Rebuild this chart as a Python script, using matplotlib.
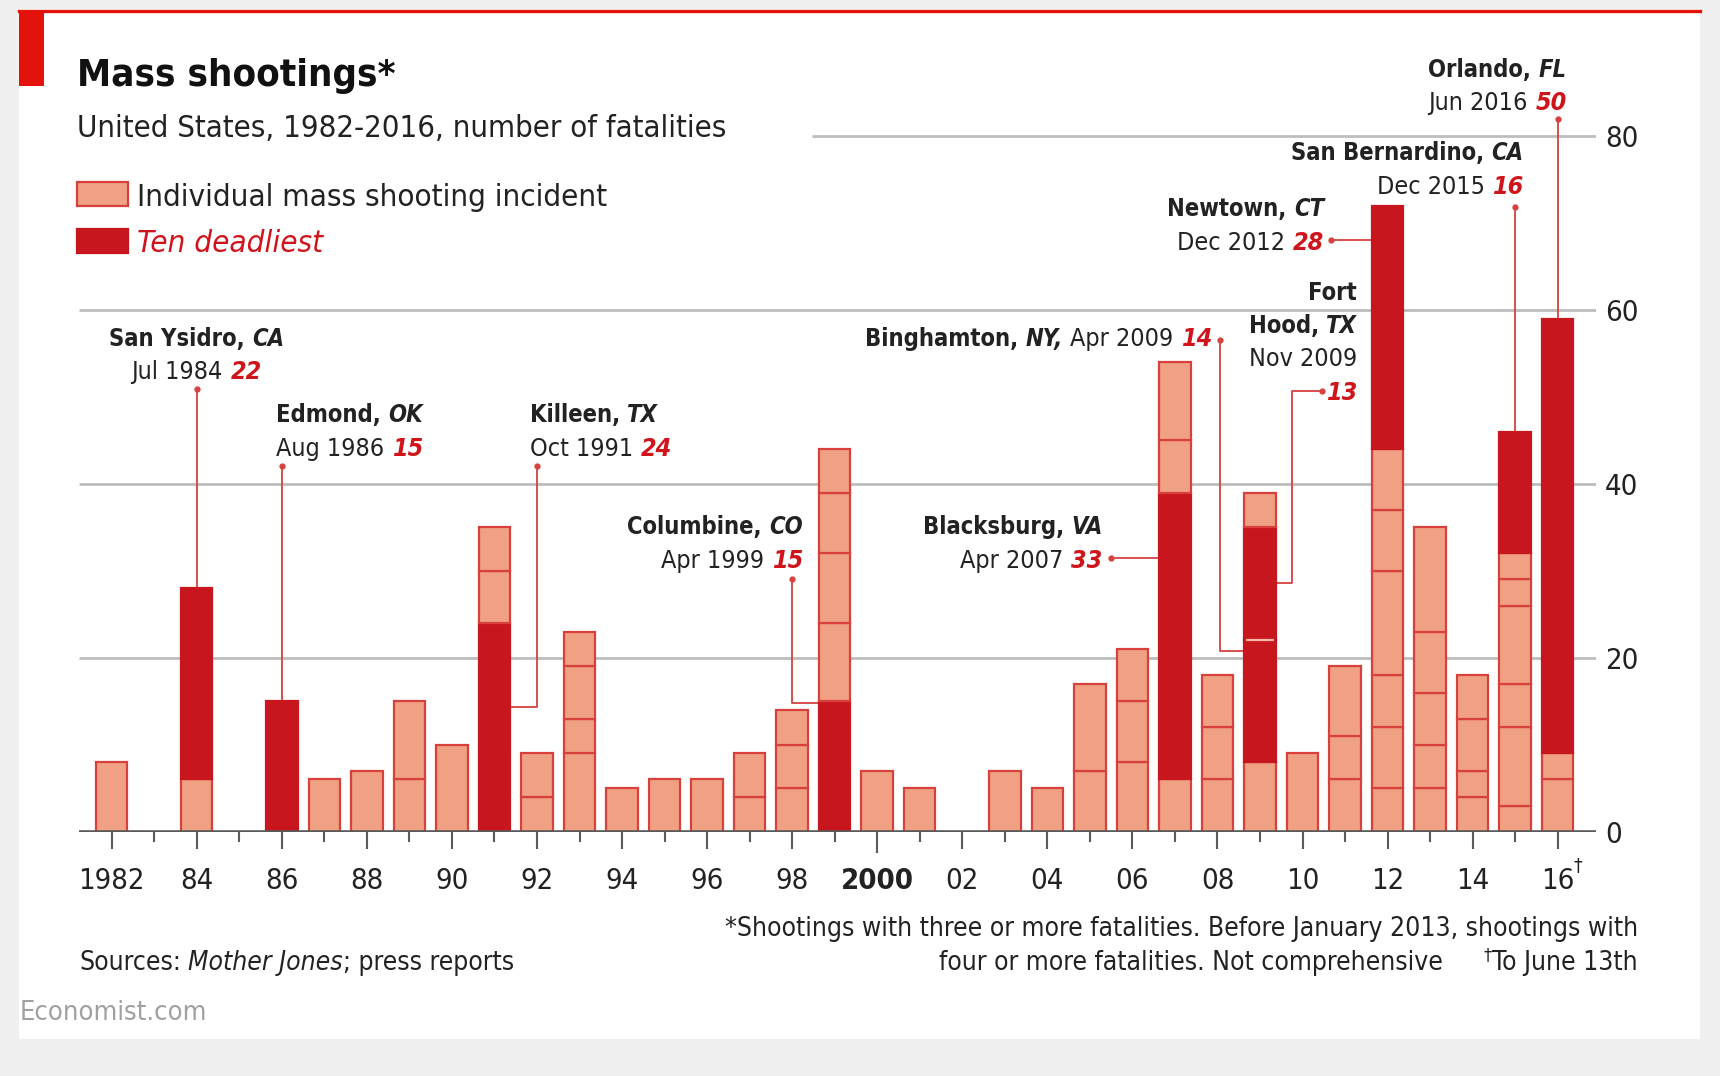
import matplotlib
matplotlib.use("Agg")
import matplotlib.pyplot as plt
from matplotlib import transforms
from matplotlib.patches import Rectangle
from matplotlib.lines import Line2D

plt.rcParams['font.family'] = ['DejaVu Sans']
plt.rcParams['font.stretch'] = 'condensed'

# ---- data -------------------------------------------------------------
years = list(range(1982, 2017))
# fatalities of each incident, stacked bottom-up within a year
incidents = [
    [8], [], [6, 22], [], [15], [6], [7], [6, 9], [10], [24, 6, 5],
    [4, 5], [9, 4, 6, 4], [5], [6], [6], [4, 5], [5, 5, 4], [15, 9, 8, 7, 5], [7], [5],
    [], [7], [5], [7, 10], [8, 7, 6], [6, 33, 6, 9], [6, 6, 6], [8, 14, 13, 4], [9], [6, 5, 8],
    [5, 7, 6, 12, 7, 7, 28], [5, 5, 6, 7, 12], [4, 3, 6, 5], [3, 9, 5, 9, 3, 3, 14], [6, 3, 50],
]
# (year, place in the stack) of the ten deadliest, in date order
deadliest = [(1984, 1), (1986, 0), (1991, 0), (1999, 0), (2007, 1),
             (2009, 1), (2009, 2), (2012, 6), (2015, 6), (2016, 2)]
places = ["San Ysidro,", "Edmond,", "Killeen,", "Columbine,", "Blacksburg,",
          "Binghamton,", "Fort Hood,", "Newtown,", "San Bernardino,", "Orlando,"]
states = ["CA", "OK", "TX", "CO", "VA", "NY,", "TX", "CT", "CA", "FL"]
dates = ["Jul 1984", "Aug 1986", "Oct 1991", "Apr 1999", "Apr 2007",
         "Apr 2009", "Nov 2009", "Dec 2012", "Dec 2015", "Jun 2016"]
deaths = ["22", "15", "24", "15", "33", "14", "13", "28", "16", "50"]

year_ticks = list(range(1982, 2017, 2))
year_labels = ["1982", "84", "86", "88", "90", "92", "94", "96", "98", "2000",
               "02", "04", "06", "08", "10", "12", "14", "16"]
y_ticks = [0, 20, 40, 60, 80]

# ---- style ------------------------------------------------------------
LIGHT = '#F0A184'
EDGE = '#D8403C'
DARK = '#C8161E'
RED_TXT = '#D0141C'
LEADER = '#D6423E'
GRID = '#BDBDBD'
AXIS = '#5A5A5A'
TXT = '#222222'
HW = 0.37  # half bar width

BOLD = dict(weight='bold', color=TXT, size=17)
BOLD_IT = dict(weight='bold', style='italic', color=TXT, size=17)
REG = dict(color=TXT)
NUM = dict(weight='bold', style='italic', color=RED_TXT)

fig = plt.figure(figsize=(17.2, 10.76), dpi=100, facecolor='#F0F0F0')
renderer = fig.canvas.get_renderer()

fig.patches.append(Rectangle((0.0108, 0.0347), 0.9777, 0.9571, transform=fig.transFigure,
                             facecolor='white', edgecolor='none', zorder=-10))
fig.lines.append(Line2D([0.0108, 0.9885], [0.9898, 0.9898], transform=fig.transFigure,
                        color='#E3120B', lw=2.4))
fig.patches.append(Rectangle((0.0108, 0.9205), 0.0147, 0.0693, transform=fig.transFigure,
                             facecolor='#E3120B', edgecolor='none'))


def text_width(s, style):
    t = fig.text(0, 0, s, **style)
    w = t.get_window_extent(renderer).width
    t.remove()
    return w


def rich(x, y, parts, ha="left", transform=None, size=18):
    """Draw runs of differently styled text on one baseline."""
    if transform is None:
        transform = fig.transFigure
    artists, widths, gaps, rises = [], [], [], []
    for s, style in parts:
        style = dict(style)
        style.setdefault('size', size)
        rise = style.pop('dy', 0)
        gap = 0
        if s.startswith(" "):
            s = s.lstrip()
            gap = text_width("a a", style) - text_width("aa", style)
        t = fig.text(x, y, s, transform=transform, ha='left', va='baseline', **style)
        artists.append(t)
        widths.append(t.get_window_extent(renderer).width)
        gaps.append(gap)
        rises.append(rise)
    total = sum(widths) + sum(gaps)
    off = {'left': 0, 'center': -total / 2, 'right': -total}[ha]
    for t, w, g, r in zip(artists, widths, gaps, rises):
        off += g
        t.set_transform(transforms.offset_copy(transform, fig=fig, x=off, y=r, units='dots'))
        off += w
    return artists


# ---- axes -------------------------------------------------------------
ax = fig.add_axes([0.0459, 0.2271, 0.8820, 0.7596])
ax.set_facecolor('none')
ax.set_xlim(1981.23, 2016.9)
ax.set_ylim(0, 94)
for sp in ax.spines.values():
    sp.set_visible(False)

for g in y_ticks[1:]:
    start = 1998.46 if g == 80 else ax.get_xlim()[0]
    ax.hlines(g, start, ax.get_xlim()[1], color=GRID, lw=2, zorder=0)
ax.axhline(0, color=AXIS, lw=2.6, zorder=5)

seg_box = {}
for yr, segs in zip(years, incidents):
    bottom = 0
    prev_dark = False
    for i, h in enumerate(segs):
        dark = (yr, i) in deadliest
        ax.bar(yr, h, bottom=bottom, width=2 * HW, color=DARK if dark else LIGHT,
               edgecolor=DARK if dark else EDGE, linewidth=1.6, zorder=3)
        if dark and prev_dark:
            ax.hlines(bottom, yr - HW + 0.03, yr + HW - 0.03, color='#F6B9A9', lw=1.6, zorder=4)
        seg_box[(yr, i)] = (bottom, bottom + h)
        bottom += h
        prev_dark = dark

ax.set_xticks(year_ticks)
ax.set_xticklabels(year_labels)
ax.set_xticks([y for y in years if y % 2], minor=True)
ax.tick_params(axis='x', which='major', length=12, width=1.5, color=AXIS, pad=13.5,
               labelsize=21, labelcolor=TXT)
ax.tick_params(axis='x', which='minor', length=7, width=1.5, color=AXIS)
for tick in ax.xaxis.get_major_ticks():
    if tick.get_loc() == 2000:
        tick.tick1line.set_markersize(15)
        tick.label1.set_fontweight('bold')
ax.text(2016.47, -4.0, '†', fontsize=14, color=TXT, ha='center', va='center', clip_on=False)

ax.set_yticks(y_ticks)
ax.yaxis.tick_right()
ax.tick_params(axis='y', length=0, pad=6.5, labelsize=21, labelcolor=TXT)

# ---- annotations ------------------------------------------------------
# ha, text x, first line centre, dot x, dot y, elbow points, leader end
ann_layout = [
    ('center', 1984.0, 56.9, 1984.0, 50.85, [], 'top'),
    ('left', 1985.87, 48.1, 1986.0, 42.0, [], 'top'),
    ('left', 1991.83, 48.1, 1992.0, 42.0, [(1992.0, 14.3)], 'side'),
    ('right', 1998.25, 35.2, 1998.0, 29.1, [(1998.0, 14.8)], 'side'),
    ('right', 2005.30, 35.2, 2005.5, 31.5, [], 'side'),
    ('right', 2007.88, 56.9, 2008.06, 56.5, [(2008.06, 20.8)], 'side'),
    ('right', 2011.28, 62.2, 2010.46, 50.7, [(2009.76, 50.7), (2009.76, 28.6)], 'side'),
    ('right', 2010.51, 71.8, 2010.66, 68.0, [], 'side'),
    ('right', 2015.20, 78.2, 2015.0, 71.8, [], 'top'),
    ('right', 2016.21, 87.8, 2016.0, 82.0, [], 'top'),
]
LINE = 3.85
BASE = 1.0
ASIZE = 18

for k, (ha, tx, ty, dx, dy, elbows, end) in enumerate(ann_layout):
    name = places[k]
    if name == "Binghamton,":
        rich(tx, ty - BASE, [(name, BOLD), (" " + states[k], BOLD_IT), (" " + dates[k], REG),
                             (" " + deaths[k], NUM)], ha=ha, transform=ax.transData, size=ASIZE)
    elif name == "Fort Hood,":
        first, second = name.split()
        rich(tx, ty - BASE, [(first, BOLD)], ha=ha, transform=ax.transData, size=ASIZE)
        rich(tx, ty - LINE - BASE, [(second, BOLD), (" " + states[k], BOLD_IT)], ha=ha,
             transform=ax.transData, size=ASIZE)
        rich(tx, ty - 2 * LINE - BASE, [(dates[k], REG)], ha=ha, transform=ax.transData, size=ASIZE)
        rich(tx, ty - 3 * LINE - BASE, [(deaths[k], NUM)], ha=ha, transform=ax.transData, size=ASIZE)
    else:
        rich(tx, ty - BASE, [(name, BOLD), (" " + states[k], BOLD_IT)], ha=ha,
             transform=ax.transData, size=ASIZE)
        rich(tx, ty - LINE - BASE, [(dates[k], REG), (" " + deaths[k], NUM)], ha=ha,
             transform=ax.transData, size=ASIZE)

    yr, idx = deadliest[k]
    lo, hi = seg_box[(yr, idx)]
    pts = [(dx, dy)] + elbows
    if end == 'top':
        pts.append((yr, hi))
    else:
        edge = yr - HW if pts[-1][0] < yr else yr + HW
        pts.append((edge, pts[-1][1]))
    xs, ys = zip(*pts)
    ax.plot(xs, ys, color=LEADER, lw=1.3, zorder=2.5, solid_capstyle='butt')
    ax.plot(dx, dy, 'o', color=LEADER, ms=3.5, zorder=2.6)

# ---- titles, legend, notes --------------------------------------------
fig.text(0.0446, 0.9200, "Mass shootings*", size=27.5, weight='bold', color='#111111',
         va='baseline')
fig.text(0.0446, 0.8726, "United States, 1982-2016, number of fatalities", size=22.3, color=TXT,
         va='baseline')
fig.patches.append(Rectangle((0.0446, 0.8084), 0.0300, 0.0224, transform=fig.transFigure,
                             facecolor=LIGHT, edgecolor=EDGE, lw=1.6))
fig.patches.append(Rectangle((0.0446, 0.7645), 0.0300, 0.0224, transform=fig.transFigure,
                             facecolor=DARK, edgecolor=DARK, lw=1.6))
fig.text(0.0797, 0.8084, "Individual mass shooting incident", size=22.5, color=TXT, va='baseline')
fig.text(0.0797, 0.7655, "Ten deadliest", size=22.5, color=RED_TXT, style='italic', va='baseline')

NSIZE = 19
rich(0.0459, 0.0989, [("Sources:", REG), (" Mother Jones", dict(style='italic', color=TXT)),
                      ("; press reports", REG)], size=NSIZE)
rich(0.9522, 0.1305, [("*Shootings with three or more fatalities. Before January 2013, shootings with",
                       REG)], ha='right', size=NSIZE)
rich(0.8387, 0.0989, [("four or more fatalities. Not comprehensive", REG)], ha='right', size=NSIZE)
rich(0.9522, 0.0989, [("†", dict(color=TXT, size=13, dy=9)), ("To June 13th", REG)],
     ha='right', size=NSIZE)
fig.text(0.0115, 0.0520, "Economist.com", size=19.5, color='#A0A0A0', va='baseline')

fig.savefig("out.png", dpi=100, facecolor=fig.get_facecolor())
